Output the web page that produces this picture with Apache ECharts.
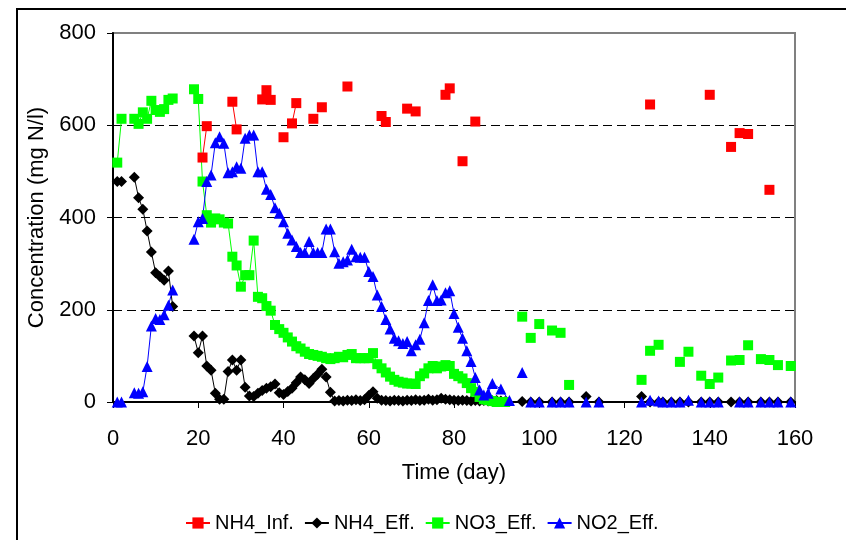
<!DOCTYPE html>
<html>
<head>
<meta charset="utf-8">
<script src="https://cdn.jsdelivr.net/npm/echarts@6/dist/echarts.min.js"></script>
<style>
  html, body { margin: 0; padding: 0; background: #fff; }
  #chart { width: 846px; height: 540px; }
</style>
</head>
<body>
<div id="chart"></div>
<script>
// ---- Data ----
const X_TICKS = [0, 20, 40, 60, 80, 100, 120, 140, 160];
const Y_TICKS = [0, 200, 400, 600, 800];
const SERIES_NAMES = ['NH4_Inf.', 'NH4_Eff.', 'NO3_Eff.', 'NO2_Eff.'];

// NH4_Inf. : day / value, null = gap
const NH4_INF_DAYS = [21,22,null,28,29,null,35,36,37,null,40,null,42,43,null,47,null,49,null,55,null,63,64,null,69,null,71,null,78,79,null,82,null,85,null,126,null,140,null,145,null,147,null,149,null,154];
const NH4_INF_VALS = [530,598,null,651,591,null,656,676,655,null,574,null,604,648,null,614,null,639,null,684,null,620,607,null,636,null,630,null,666,680,null,522,null,608,null,645,null,666,null,553,null,583,null,581,null,460];

// NH4_Eff.
const NH4_EFF_D1_2 = [478, 478];
const NH4_EFF_D5_14 = [487, 443, 418, 371, 325, 280, 272, 264, 284, 207];
const NH4_EFF_D19_92 = [143,107,143,78,69,19,6,6,66,91,69,91,32,13,12,19,25,30,33,39,20,16,23,30,42,54,48,40,51,60,71,54,21,
  2,3,2,4,3,5,3,5,14,22,8,4,3,2,4,3,2,4,3,5,3,4,6,4,5,8,6,5,4,3,4,3,2,3,2,3,2,2,3,2,1];
const NH4_EFF_LATE_DAYS = [96,98,100,103,105,107,111,114,124,126,128,129,131,133,135,138,140,142,145,147,149,152,154,156,159];
const NH4_EFF_LATE_VALS = [1,0,0,0,0,0,12,0,12,0,0,0,0,0,0,0,0,0,0,0,0,0,0,0,0];

// NO3_Eff.
const NO3_EFF_D1_2 = [519, 614];
const NO3_EFF_D5_14 = [614, 603, 628, 614, 653, 633, 629, 635, 655, 658];
const NO3_EFF_D19_92 = [678,657,478,405,389,398,396,389,387,315,296,250,275,275,350,228,225,208,198,167,158,150,140,131,121,116,109,104,102,100,
  98,95,93,95,98,97,102,104,95,95,95,95,106,82,73,64,55,48,44,42,40,40,39,56,62,73,78,73,77,80,78,61,56,51,41,30,22,11,6,4,2,0,0,0];
const NO3_EFF_LATE_DAYS = [96,98,100,103,105,107,124,126,128,133,135,138,140,142,145,147,149,152,154,156,159];
const NO3_EFF_LATE_VALS = [185,139,169,155,150,37,48,111,124,87,109,57,39,53,90,91,123,93,91,80,78];

// NO2_Eff.
const NO2_EFF_D1_2 = [0, 0];
const NO2_EFF_D5_14 = [20, 19, 22, 77, 165, 181, 179, 189, 210, 243];
const NO2_EFF_D19_89 = [353,391,398,478,492,562,575,561,497,499,510,507,572,579,579,499,499,461,450,421,409,391,366,351,337,324,324,348,324,324,
  324,375,375,326,301,304,308,331,315,314,314,283,272,232,207,179,158,138,133,127,131,111,124,136,172,220,254,220,221,237,241,192,162,138,111,88,53,26,15,19,40];
const NO2_EFF_TAIL_DAYS = [91, 93];
const NO2_EFF_TAIL_VALS = [28, 3];
const NO2_EFF_LATE_DAYS = [96,98,100,103,105,107,111,114,124,126,128,129,131,133,135,138,140,142,147,149,152,154,156,159];
const NO2_EFF_LATE_VALS = [64,0,0,0,0,0,0,0,0,4,2,0,0,0,4,0,0,0,0,0,0,0,0,0];

// ---- helpers: turn arrays into [day, value] points with breaks ----
const BREAK = ['-', '-'];
function fromDays(days, vals) {
  return days.map((d, i) => (d == null || vals[i] == null) ? BREAK : [d, vals[i]]);
}
function run(startDay, vals) {
  return vals.map((v, i) => [startDay + i, v]);
}
function isolated(days, vals) {
  const out = [];
  days.forEach((d, i) => { out.push(BREAK); out.push([d, vals[i]]); });
  return out;
}

const dataNH4Inf = fromDays(NH4_INF_DAYS, NH4_INF_VALS);
const dataNH4Eff = [].concat(run(1, NH4_EFF_D1_2), [BREAK], run(5, NH4_EFF_D5_14), [BREAK], run(19, NH4_EFF_D19_92), isolated(NH4_EFF_LATE_DAYS, NH4_EFF_LATE_VALS));
const dataNO3Eff = [].concat(run(1, NO3_EFF_D1_2), [BREAK], run(5, NO3_EFF_D5_14), [BREAK], run(19, NO3_EFF_D19_92), isolated(NO3_EFF_LATE_DAYS, NO3_EFF_LATE_VALS));
const dataNO2Eff = [].concat(run(1, NO2_EFF_D1_2), [BREAK], run(5, NO2_EFF_D5_14), [BREAK], run(19, NO2_EFF_D19_89),
  fromDays(NO2_EFF_TAIL_DAYS, NO2_EFF_TAIL_VALS), isolated(NO2_EFF_LATE_DAYS, NO2_EFF_LATE_VALS));

const FONT = 'Liberation Sans, Arial, sans-serif';

function mkSeries(name, data, color, symbol, size) {
  return {
    name: name, type: 'line', data: data,
    symbol: symbol, symbolSize: size, showAllSymbol: true,
    connectNulls: false,
    itemStyle: { color: color, borderWidth: 0 },
    lineStyle: { color: color, width: 1 },
    emphasis: { disabled: true },
    animation: false
  };
}

const chart = echarts.init(document.getElementById('chart'), null, { renderer: 'canvas' });
chart.setOption({
  animation: false,
  backgroundColor: '#ffffff',
  textStyle: { fontFamily: FONT },
  graphic: [{
    type: 'rect', silent: true, z: -10,
    shape: { x: 17, y: 9, width: 900, height: 600 },
    style: { fill: 'none', stroke: '#000', lineWidth: 2 }
  }],
  grid: {
    left: 113, right: 51, top: 33, bottom: 138,
    show: true, borderColor: '#808080', borderWidth: 2, backgroundColor: 'transparent'
  },
  legend: {
    data: SERIES_NAMES,
    left: 180, top: 508,
    itemWidth: 24, itemHeight: 14, itemGap: 10,
    textStyle: { fontSize: 20, color: '#000', fontFamily: FONT },
    selectedMode: false
  },
  xAxis: {
    type: 'value', min: X_TICKS[0], max: X_TICKS[X_TICKS.length - 1], interval: X_TICKS[1] - X_TICKS[0],
    name: 'Time (day)', nameLocation: 'middle', nameGap: 60,
    nameTextStyle: { fontSize: 22, color: '#000', fontFamily: FONT },
    axisLine: { show: true, onZero: false, lineStyle: { color: '#000', width: 2 } },
    axisTick: { show: true, inside: false, length: 6, lineStyle: { color: '#000', width: 1 } },
    axisLabel: { fontSize: 22, color: '#000', margin: 26, fontFamily: FONT },
    splitLine: { show: false }
  },
  yAxis: {
    type: 'value', min: Y_TICKS[0], max: Y_TICKS[Y_TICKS.length - 1], interval: Y_TICKS[1] - Y_TICKS[0],
    name: 'Concentration (mg N/l)', nameLocation: 'middle', nameGap: 60, nameRotate: 90,
    nameTextStyle: { fontSize: 22, color: '#000', fontFamily: FONT },
    axisLine: { show: true, onZero: false, lineStyle: { color: '#000', width: 2 } },
    axisTick: { show: true, inside: false, length: 6, lineStyle: { color: '#000', width: 1 } },
    axisLabel: { fontSize: 22, color: '#000', margin: 17, fontFamily: FONT },
    splitLine: { show: true, showMinLine: false, showMaxLine: false, lineStyle: { color: '#000', width: 1, type: [9, 5] } }
  },
  series: [
    mkSeries(SERIES_NAMES[0], dataNH4Inf, '#ff0000', 'rect', 10),
    mkSeries(SERIES_NAMES[1], dataNH4Eff, '#000000', 'diamond', 11),
    mkSeries(SERIES_NAMES[2], dataNO3Eff, '#00ff00', 'rect', 10),
    mkSeries(SERIES_NAMES[3], dataNO2Eff, '#0000ff', 'triangle', 11)
  ]
});
</script>
</body>
</html>
